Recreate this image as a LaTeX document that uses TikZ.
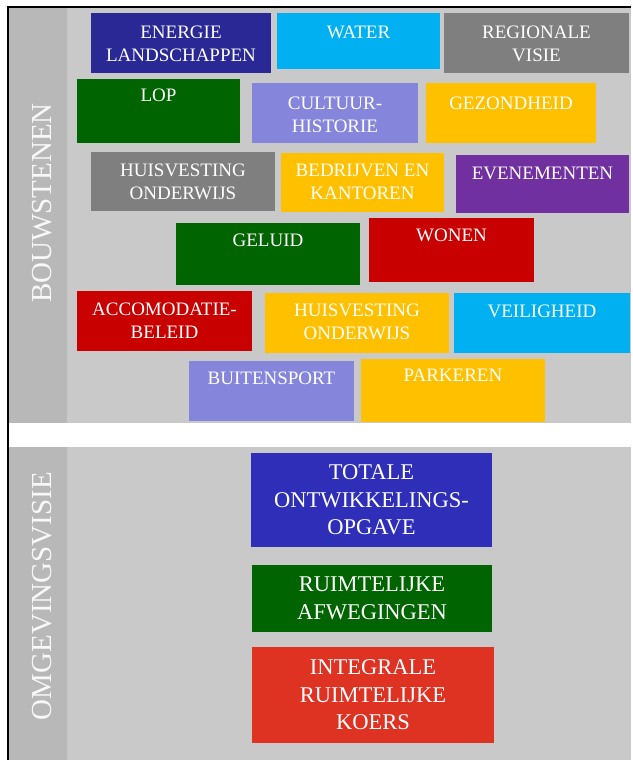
\documentclass[tikz,border=0pt]{standalone}
\usepackage{fontspec}
\setmainfont{Liberation Serif}

\definecolor{donkerblauw}{HTML}{2A2894}
\definecolor{lichtblauw}{HTML}{00B0F0}
\definecolor{grijs}{HTML}{7F7F7F}
\definecolor{groen}{HTML}{006400}
\definecolor{lila}{HTML}{8585DC}
\definecolor{geel}{HTML}{FFC000}
\definecolor{paars}{HTML}{7030A0}
\definecolor{rood}{HTML}{C80000}
\definecolor{blauw}{HTML}{2E2EB8}
\definecolor{oranjerood}{HTML}{DE3222}
\definecolor{achtergrond}{HTML}{C9C9C9}
\definecolor{strook}{HTML}{B8B8B8}

\tikzset{
  blok/.style={anchor=north, inner sep=0pt, align=center, text=white,
    font=\fontsize{19}{23}\selectfont},
  opgave/.style={inner sep=0pt, align=center, text=white,
    font=\fontsize{22.5}{27.5}\selectfont},
  zijlabel/.style={rotate=90, inner sep=0pt, text=white!90!strook,
    font=\fontsize{29}{29}\selectfont}
}

\begin{document}
\begin{tikzpicture}[x=1pt, y=-1pt, text=white]
\def \lft {8}
\def \rgt {631}
\def \strip {67}
\def \boven {7}
\def \gatboven {423}
\def \gatonder {447}
\def \onder {760}

\useasboundingbox (0,0) rectangle (632,760);
\fill[white] (0,0) rectangle (632,760);

%Panels
\fill[achtergrond] (\lft,\boven) rectangle (\rgt,\gatboven);
\fill[achtergrond] (\lft,\gatonder) rectangle (\rgt,\onder);
\fill[strook] (\lft,\boven) rectangle (\strip,\gatboven);
\fill[strook] (\lft,\gatonder) rectangle (\strip,\onder);
\draw[line width=1.5pt] (\rgt,\boven) -- (\lft,\boven) -- (\lft,\onder);

\node[zijlabel] (bouwstenen) at (42,203) {BOUWSTENEN};
\node[zijlabel] (omgevingsvisie) at (42,596) {OMGEVINGSVISIE};

%Row 1
\fill[donkerblauw] (91,13) rectangle (271,73);
\node[blok] (energie) at (181,26) {ENERGIE\\LANDSCHAPPEN};
\fill[lichtblauw] (277,13) rectangle (440,69);
\node[blok] (water) at (358.5,26) {WATER};
\fill[grijs] (444,13) rectangle (629,73);
\node[blok] (regionale) at (536.5,26) {REGIONALE\\VISIE};

%Row 2
\fill[groen] (77,79) rectangle (240,143);
\node[blok] (lop) at (158.5,89) {LOP};
\fill[lila] (252,83) rectangle (418,143);
\node[blok] (cultuur) at (335,97) {CULTUUR-\\HISTORIE};
\fill[geel] (426,83) rectangle (596,143);
\node[blok] (gezondheid) at (511,97) {GEZONDHEID};

%Row 3
\fill[grijs] (91,152) rectangle (275,211);
\node[blok] (huisvestinga) at (183,164) {HUISVESTING\\ONDERWIJS};
\fill[geel] (281,153) rectangle (444,212);
\node[blok] (bedrijven) at (362.5,164) {BEDRIJVEN EN\\KANTOREN};
\fill[paars] (456,155) rectangle (629,213);
\node[blok] (evenementen) at (542.5,167) {EVENEMENTEN};

%Row 4
\fill[groen] (176,223) rectangle (360,285);
\node[blok] (geluid) at (268,234) {GELUID};
\fill[rood] (369,218) rectangle (534,282);
\node[blok] (wonen) at (451.5,229) {WONEN};

%Row 5
\fill[rood] (77,291) rectangle (252,351);
\node[blok] (accomodatie) at (164.5,303) {ACCOMODATIE-\\BELEID};
\fill[geel] (265,293) rectangle (449,353);
\node[blok] (huisvestingb) at (357,304) {HUISVESTING\\ONDERWIJS};
\fill[lichtblauw] (454,293) rectangle (630,353);
\node[blok] (veiligheid) at (542,305) {VEILIGHEID};

%Row 6
\fill[lila] (189,361) rectangle (354,421);
\node[blok] (buitensport) at (271.5,372) {BUITENSPORT};
\fill[geel] (361,359) rectangle (545,422);
\node[blok] (parkeren) at (453,369) {PARKEREN};

%Omgevingsvisie
\fill[blauw] (251,453) rectangle (492,547) node[pos=.5, opgave] (totale) {TOTALE\\ONTWIKKELINGS-\\OPGAVE};
\fill[groen] (252,565) rectangle (492,632) node[pos=.5, opgave] (afwegingen) {RUIMTELIJKE\\AFWEGINGEN};
\fill[oranjerood] (252,647) rectangle (494,743) node[pos=.5, opgave] (koers) {INTEGRALE\\RUIMTELIJKE\\KOERS};

\end{tikzpicture}
\end{document}
